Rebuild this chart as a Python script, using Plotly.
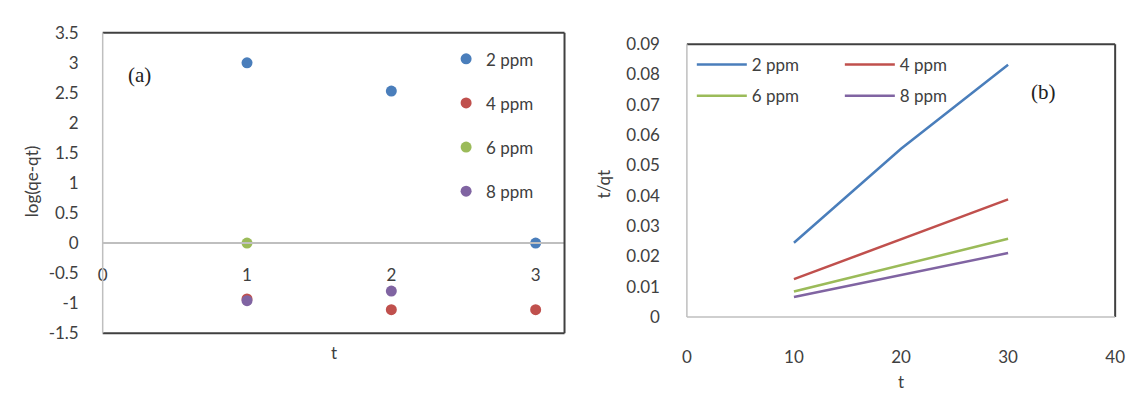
import plotly.graph_objects as go

# ---- data: panel (a) ----
series_names = ["2 ppm", "4 ppm", "6 ppm", "8 ppm"]
colors = ["#4A7EBB", "#C0504D", "#9BBB59", "#8064A2"]
a_t_2ppm = [1, 2, 3]
a_y_2ppm = [3.0, 2.53, 0.0]
a_t_4ppm = [1, 2, 3]
a_y_4ppm = [-0.93, -1.11, -1.11]
a_t_6ppm = [1]
a_y_6ppm = [0.0]
a_t_8ppm = [1, 2]
a_y_8ppm = [-0.96, -0.80]

a_xticks = [0, 1, 2, 3]
a_yticks = [-1.5, -1, -0.5, 0, 0.5, 1, 1.5, 2, 2.5, 3, 3.5]
a_yticklabels = ["-1.5", "-1", "-0.5", "0", "0.5", "1", "1.5", "2", "2.5", "3", "3.5"]

# ---- data: panel (b) ----
b_t = [10, 20, 30]
b_2ppm = [0.0245, 0.0555, 0.0832]
b_4ppm = [0.0125, 0.0256, 0.0388]
b_6ppm = [0.0084, 0.0171, 0.0258]
b_8ppm = [0.0066, 0.0138, 0.0211]

b_xticks = [0, 10, 20, 30, 40]
b_yticks = [0, 0.01, 0.02, 0.03, 0.04, 0.05, 0.06, 0.07, 0.08, 0.09]
b_yticklabels = ["0", "0.01", "0.02", "0.03", "0.04", "0.05", "0.06", "0.07", "0.08", "0.09"]

a_x = [a_t_2ppm, a_t_4ppm, a_t_6ppm, a_t_8ppm]
a_y = [a_y_2ppm, a_y_4ppm, a_y_6ppm, a_y_8ppm]
b_y = [b_2ppm, b_4ppm, b_6ppm, b_8ppm]

W, H = 1137, 400
FONT = "Lato"
TXT = "#404040"
FS = 17

fig = go.Figure()

for i, name in enumerate(series_names):
    fig.add_trace(go.Scatter(
        x=a_x[i], y=a_y[i], mode="markers", name=name,
        marker=dict(color=colors[i], size=11),
        xaxis="x", yaxis="y", legend="legend", legendgroup="a%d" % i,
    ))

for i, name in enumerate(series_names):
    fig.add_trace(go.Scatter(
        x=b_t, y=b_y[i], mode="lines", name=name,
        line=dict(color=colors[i], width=2.5),
        xaxis="x2", yaxis="y2",
        legend="legend2" if i % 2 == 0 else "legend3",
        legendgroup="b%d" % i,
    ))

def px(x):
    return x / W

def py(y):
    return 1 - y / H

tickfont = dict(family=FONT, size=FS, color=TXT)
legfont = dict(family=FONT, size=FS, color=TXT)

fig.update_layout(
    width=W, height=H,
    margin=dict(l=0, r=0, t=0, b=0),
    paper_bgcolor="white", plot_bgcolor="white",
    font=dict(family=FONT, size=FS, color=TXT),
    xaxis=dict(domain=[px(99), px(567)], range=[0, 3.2], tickvals=a_xticks,
               anchor="free", position=py(245), showgrid=False, zeroline=False,
               showline=True, linecolor="#bfbfbf", linewidth=1.5, ticks="",
               tickfont=tickfont, ticklabelstandoff=17),
    yaxis=dict(domain=[py(340), py(23)], range=[-1.5, 3.5],
               tickvals=a_yticks, ticktext=a_yticklabels,
               anchor="x", showgrid=False, zeroline=False, showline=False,
               ticks="", tickfont=tickfont, ticklabelstandoff=23),
    xaxis2=dict(domain=[px(691), px(1125)], range=[0, 40], tickvals=b_xticks,
                anchor="y2", showgrid=False, zeroline=False, showline=False,
                ticks="", tickfont=tickfont, ticklabelstandoff=28),
    yaxis2=dict(domain=[py(323), py(35)], range=[0, 0.09],
                tickvals=b_yticks, ticktext=b_yticklabels,
                anchor="x2", showgrid=False, zeroline=False, showline=False,
                ticks="", tickfont=tickfont, ticklabelstandoff=26),
    legend=dict(x=px(447), y=py(32), xanchor="left", yanchor="top",
                bgcolor="rgba(0,0,0,0)", tracegroupgap=19, font=legfont),
    legend2=dict(x=px(696), y=py(38), xanchor="left", yanchor="top",
                 bgcolor="rgba(0,0,0,0)", tracegroupgap=6, itemwidth=50, font=legfont),
    legend3=dict(x=px(846), y=py(38), xanchor="left", yanchor="top",
                 bgcolor="rgba(0,0,0,0)", tracegroupgap=6, itemwidth=50, font=legfont),
    showlegend=True,
)

dark = "#404040"
grey = "#bfbfbf"
shapes = []
for (x0, y0, x1, y1, c) in [(0, 1, 1, 1, dark), (1, 0, 1, 1, dark), (0, 0, 1, 0, dark), (0, 0, 0, 1, grey)]:
    shapes.append(dict(type="line", xref="x domain", yref="y domain",
                       x0=x0, y0=y0, x1=x1, y1=y1, line=dict(color=c, width=2 if c == dark else 1.5)))
for (x0, y0, x1, y1, c) in [(0, 1, 1, 1, dark), (1, 0, 1, 1, dark), (0, 0, 1, 0, grey), (0, 0, 0, 1, grey)]:
    shapes.append(dict(type="line", xref="x2 domain", yref="y2 domain",
                       x0=x0, y0=y0, x1=x1, y1=y1, line=dict(color=c, width=2 if c == dark else 1.5)))
fig.update_layout(shapes=shapes)

ann = [
    dict(text="(a)", x=px(136), y=py(68), font=dict(family="Liberation Serif", size=21, color="#222")),
    dict(text="(b)", x=px(1052), y=py(85), font=dict(family="Liberation Serif", size=21, color="#222")),
    dict(text="log(qe-qt)", x=px(27), y=py(180), textangle=-90, font=dict(family=FONT, size=FS, color=TXT)),
    dict(text="t/qt", x=px(606), y=py(183), textangle=-90, font=dict(family=FONT, size=FS, color=TXT)),
    dict(text="t", x=px(333), y=py(360), font=dict(family=FONT, size=FS, color=TXT)),
    dict(text="t", x=px(908), y=py(391), font=dict(family=FONT, size=FS, color=TXT)),
]
for a in ann:
    a.update(xref="paper", yref="paper", showarrow=False, xanchor="center", yanchor="middle")
fig.update_layout(annotations=ann)

fig.write_html("out.html")
